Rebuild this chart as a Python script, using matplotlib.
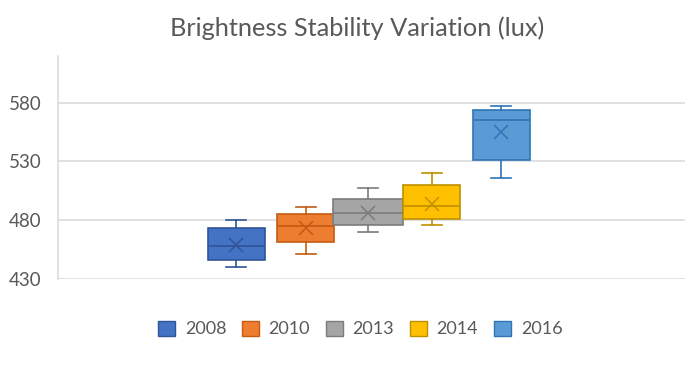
import matplotlib
matplotlib.use("Agg")
import matplotlib.pyplot as plt
from matplotlib.patches import Patch

# datos
years = ["2008", "2010", "2013", "2014", "2016"]
whis_lo = [440, 451, 470, 476, 516]
q1 = [446, 461, 476, 481, 531]
median = [458, 475, 486, 492, 565]
q3 = [473, 485, 498, 510, 574]
whis_hi = [480, 491, 507, 520, 577]
means = [459, 473, 486, 494, 555]
yticks = [430, 480, 530, 580]

fills = ["#4472C4", "#ED7D31", "#A5A5A5", "#FFC000", "#5B9BD5"]
edges = ["#2F5597", "#C55A11", "#7B7B7B", "#BF9000", "#2E75B6"]

plt.rcParams["font.family"] = ["Lato", "DejaVu Sans"]
gris = "#595959"

fig = plt.figure(figsize=(6.85, 3.7), dpi=100)
ax = fig.add_axes([58 / 685, 1 - 278.7 / 370, 1 - 58 / 685, (278.7 - 56) / 370])

# posiciones en píxeles dentro del eje
pos = [178, 247.5, 310, 373.5, 443]
anchos = [57, 57, 70, 57, 57]

for i in range(len(years)):
    st = [{"med": median[i], "q1": q1[i], "q3": q3[i], "whislo": whis_lo[i],
           "whishi": whis_hi[i], "mean": means[i], "fliers": [], "label": years[i]}]
    ax.bxp(st, positions=[pos[i]], widths=anchos[i], patch_artist=True,
           showmeans=True, manage_ticks=False, capwidths=20,
           boxprops=dict(facecolor=fills[i], edgecolor=edges[i], linewidth=1.2),
           medianprops=dict(color=edges[i], linewidth=1.2),
           whiskerprops=dict(color=edges[i], linewidth=1.2),
           capprops=dict(color=edges[i], linewidth=1.2),
           meanprops=dict(marker="x", markeredgecolor=edges[i], markersize=10,
                          markeredgewidth=1.1))

ax.set_xlim(0, 627)
ax.set_ylim(430, 620)
ax.set_yticks(yticks)
ax.set_xticks([])
ax.grid(axis="y", color="#D9D9D9", linewidth=1.1)
ax.set_axisbelow(True)
for s in ["top", "right", "bottom"]:
    ax.spines[s].set_visible(False)
ax.spines["left"].set_color("#D9D9D9")
ax.spines["left"].set_linewidth(1.1)
ax.tick_params(axis="y", length=0, labelsize=13.5, labelcolor=gris, pad=12)

fig.text(357 / 685, 1 - 28 / 370, "Brightness Stability Variation (lux)",
         ha="center", va="center", fontsize=18.3, color=gris)

handles = [Patch(facecolor=fills[i], edgecolor=edges[i], linewidth=1) for i in range(len(years))]
fig.legend(handles, years, loc="center", bbox_to_anchor=(360 / 685, 1 - 329 / 370),
           ncol=5, frameon=False, fontsize=13, labelcolor=gris,
           handlelength=0.95, handleheight=0.95, handletextpad=0.55, columnspacing=0.85)

plt.savefig("out.png", dpi=100)
